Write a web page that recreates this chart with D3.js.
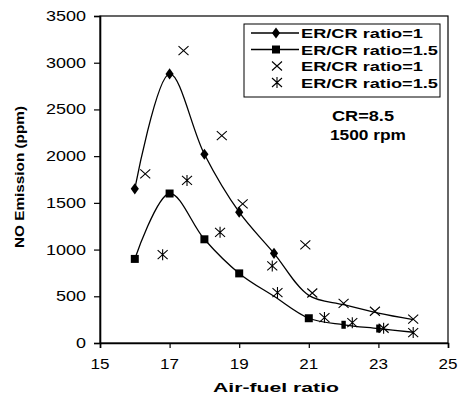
<!DOCTYPE html>
<html>
<head>
<meta charset="utf-8">
<script src="https://cdn.jsdelivr.net/npm/d3@7"></script>
<style>
  body { margin: 0; background: #fff; }
  text { font-family: "Liberation Sans", Arial, sans-serif; fill: #000; }
</style>
</head>
<body>
<div id="chart"></div>
<script>
// Air-fuel ratio values for the two fitted lines
var afr = [16, 17, 18, 19, 20, 21, 22, 23, 24];
var lineRatio1 = [1650, 2880, 2020, 1400, 960, 510, 410, 320, 250];
var lineRatio15 = [900, 1600, 1110, 745, 500, 265, 195, 155, 115];

// scattered (measured) points
var crossX = [16.3, 17.4, 18.5, 19.1, 20.9, 21.1, 22.0, 22.9, 24.0];
var crossY = [1810, 3130, 2220, 1490, 1050, 535, 425, 340, 255];
var starX = [16.8, 17.5, 18.45, 19.95, 20.1, 21.45, 22.25, 23.15, 24.0];
var starY = [945, 1740, 1185, 825, 540, 272, 218, 158, 112];

var xTicks = [15, 17, 19, 21, 23, 25];
var yTicks = [0, 500, 1000, 1500, 2000, 2500, 3000, 3500];
var legendLabels = ["ER/CR ratio=1", "ER/CR ratio=1.5", "ER/CR ratio=1", "ER/CR ratio=1.5"];

var width = 462, height = 400;
var margin = {top: 16, right: 14, bottom: 57, left: 100};

var svg = d3.select("#chart").append("svg")
  .attr("width", width)
  .attr("height", height);

var x = d3.scaleLinear().domain([15, 25]).range([margin.left, width - margin.right]);
var y = d3.scaleLinear().domain([0, 3500]).range([height - margin.bottom, margin.top]);

// stretched text, the original picture is wider than normal type
function stext(g, str, px, py, size, len, anchor, bold) {
  return g.append("text")
    .attr("x", px).attr("y", py)
    .attr("font-size", size)
    .attr("font-weight", bold ? "bold" : "normal")
    .attr("text-anchor", anchor)
    .attr("textLength", len)
    .attr("lengthAdjust", "spacingAndGlyphs")
    .text(str);
}

// frame
svg.append("rect")
  .attr("x", x(15)).attr("y", y(3500))
  .attr("width", x(25) - x(15)).attr("height", y(0) - y(3500))
  .attr("fill", "none").attr("stroke", "#000").attr("stroke-width", 1.2);

// axes
var xAxis = svg.append("g")
  .attr("transform", "translate(0," + y(0) + ")")
  .call(d3.axisBottom(x).tickValues(xTicks).tickSize(5).tickFormat(""));
var yAxis = svg.append("g")
  .attr("transform", "translate(" + x(15) + ",0)")
  .call(d3.axisLeft(y).tickValues(yTicks).tickSize(6).tickFormat(""));
[xAxis, yAxis].forEach(function(a) {
  a.select(".domain").attr("stroke", "#000").attr("stroke-width", 1.6);
  a.selectAll(".tick line").attr("stroke", "#000").attr("stroke-width", 1.2);
});

xTicks.forEach(function(t) {
  stext(svg, String(t), x(t), 369, 14.5, 19, "middle", false);
});
yTicks.forEach(function(t) {
  var s = String(t);
  stext(svg, s, 86, y(t) + 5, 14, s.length * 10, "end", false);
});

// axis titles
stext(svg, "Air-fuel ratio", 276, 392, 13.5, 126, "middle", true);
svg.append("text")
  .attr("transform", "translate(24," + 177 + ") rotate(-90)")
  .attr("font-size", 12.5)
  .attr("font-weight", "bold")
  .attr("text-anchor", "middle")
  .attr("textLength", 142)
  .attr("lengthAdjust", "spacingAndGlyphs")
  .text("NO Emission (ppm)");

// lines
var line = d3.line()
  .x(function(d) { return x(d[0]); })
  .y(function(d) { return y(d[1]); })
  .curve(d3.curveCatmullRom.alpha(0.5));

var pts1 = afr.map(function(a, i) { return [a, lineRatio1[i]]; });
var pts15 = afr.map(function(a, i) { return [a, lineRatio15[i]]; });

[pts1, pts15].forEach(function(p) {
  svg.append("path")
    .attr("d", line(p))
    .attr("fill", "none")
    .attr("stroke", "#000")
    .attr("stroke-width", 1.3);
});

var diamond = d3.symbol().type(d3.symbolDiamond).size(40);
var square = d3.symbol().type(d3.symbolSquare).size(64);

// markers on the lines (those later ones are hidden under the scatter marks in the original)
svg.append("g").selectAll("path")
  .data(pts1.filter(function(d) { return d[0] <= 20; }))
  .enter().append("path")
  .attr("d", diamond)
  .attr("transform", function(d) { return "translate(" + x(d[0]) + "," + y(d[1]) + ") scale(1.2,0.95)"; })
  .attr("fill", "#000");

svg.append("g").selectAll("path")
  .data(pts15.filter(function(d) { return d[0] <= 23 && d[0] !== 20; }))
  .enter().append("path")
  .attr("d", square)
  .attr("transform", function(d) {
    var sx = d[0] >= 22 ? 0.55 : 1;
    return "translate(" + x(d[0]) + "," + y(d[1]) + ") scale(" + sx + ",1)";
  })
  .attr("fill", "#000");

function crossPath(g, cx, cy, star) {
  var w = 5, h = 4.5;
  var d = "M" + (cx - w) + "," + (cy - h) + "L" + (cx + w) + "," + (cy + h) +
          "M" + (cx - w) + "," + (cy + h) + "L" + (cx + w) + "," + (cy - h);
  if (star) d += "M" + cx + "," + (cy - h - 1) + "L" + cx + "," + (cy + h + 1);
  g.append("path").attr("d", d)
    .attr("stroke", "#000").attr("stroke-width", 1.1).attr("fill", "none");
}

var scat = svg.append("g");
crossX.forEach(function(v, i) { crossPath(scat, x(v), y(crossY[i]), false); });
starX.forEach(function(v, i) { crossPath(scat, x(v), y(starY[i]), true); });

// legend
var lg = svg.append("g");
lg.append("rect")
  .attr("x", 244).attr("y", 24).attr("width", 196).attr("height", 73)
  .attr("fill", "#fff").attr("stroke", "#000").attr("stroke-width", 1);
var rowY = [33, 49.5, 66, 82.5];
legendLabels.forEach(function(lbl, i) {
  var cy = rowY[i];
  if (i < 2) {
    lg.append("line").attr("x1", 251).attr("x2", 299).attr("y1", cy).attr("y2", cy)
      .attr("stroke", "#000").attr("stroke-width", 1.3);
    lg.append("path")
      .attr("d", i === 0 ? diamond : square)
      .attr("transform", "translate(276," + cy + ")" + (i === 0 ? " scale(1.2,0.95)" : ""))
      .attr("fill", "#000");
  } else {
    crossPath(lg, 277, cy, i === 3);
  }
  stext(lg, lbl, 301, cy + 5, 13.5, i % 2 === 0 ? 122 : 137, "start", true);
});

// annotation
stext(svg, "CR=8.5", 363, 121, 14, 62, "middle", true);
stext(svg, "1500 rpm", 368, 140, 14, 76, "middle", true);
</script>
</body>
</html>
